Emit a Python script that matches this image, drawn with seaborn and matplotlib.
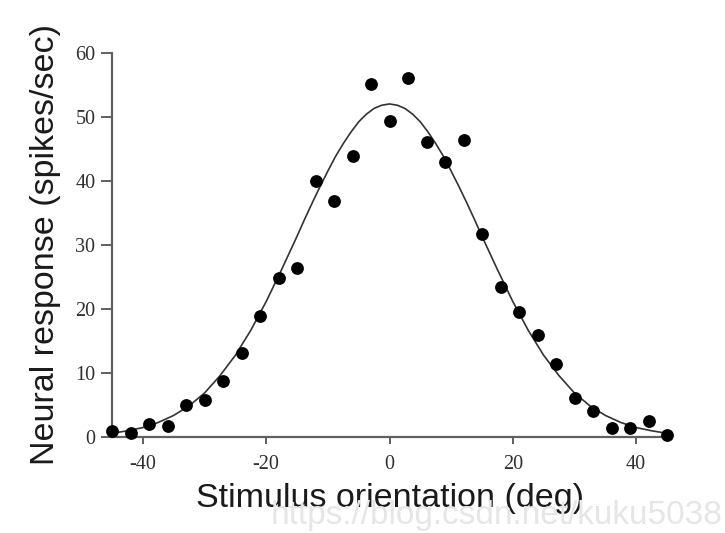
import matplotlib
matplotlib.use("Agg")
import matplotlib.pyplot as plt
import seaborn as sns
import pandas as pd

# Measured responses (points)
orientation = [-45, -42, -39, -36, -33, -30, -27, -24, -21, -18, -15, -12, -9, -6, -3, 0,
               3, 6, 9, 12, 15, 18, 21, 24, 27, 30, 33, 36, 39, 42, 45]
response = [0.9, 0.5, 1.9, 1.6, 5.0, 5.7, 8.7, 13.1, 18.8, 24.8, 26.4, 39.9, 36.8, 43.9, 55.1, 49.3,
            56.1, 46.0, 42.9, 46.3, 31.6, 23.4, 19.5, 15.8, 11.4, 6.0, 4.0, 1.3, 1.3, 2.5, 0.2]

# Fitted tuning curve
curve_x = [-45, -42.5, -40, -37.5, -35, -32.5, -30, -27.5, -25, -22.5,
           -20, -18.75, -17.5, -16.25, -15, -13.75, -12.5, -11.25, -10, -8.75, -7.5, -6.25,
           -5, -3.75, -2.5, -1.25, 0, 1.25, 2.5, 3.75, 5, 6.25, 7.5, 8.75, 10, 11.25,
           12.5, 13.75, 15, 16.25, 17.5, 18.75, 20,
           22.5, 25, 27.5, 30, 32.5, 35, 37.5, 40, 42.5, 45]
curve_y = [0.5, 0.9, 1.4, 2.2, 3.3, 4.8, 6.8, 9.5, 12.7, 16.6,
           21.1, 23.6, 26.1, 28.7, 31.3, 34.0, 36.6, 39.1, 41.5, 43.8, 45.8, 47.6,
           49.2, 50.4, 51.3, 51.8, 52.0, 51.8, 51.3, 50.4, 49.2, 47.6, 45.8, 43.8, 41.5, 39.1,
           36.6, 34.0, 31.3, 28.7, 26.1, 23.6, 21.1,
           16.6, 12.7, 9.5, 6.8, 4.8, 3.3, 2.2, 1.4, 0.9, 0.5]

xticks = [-40, -20, 0, 20, 40]
yticks = [0, 10, 20, 30, 40, 50, 60]

sns.set_style("ticks")
plt.rcParams["axes.unicode_minus"] = False

fig = plt.figure(figsize=(7.25, 5.33), dpi=100)
ax = fig.add_axes([0.1545, 0.181, 0.7655, 0.72])

pts = pd.DataFrame({"x": orientation, "y": response})
fit = pd.DataFrame({"x": curve_x, "y": curve_y})

sns.lineplot(data=fit, x="x", y="y", ax=ax, color="#333333", linewidth=1.2, zorder=2)
sns.scatterplot(data=pts, x="x", y="y", ax=ax, color="black", s=85, edgecolor="black",
                linewidth=0, zorder=3, clip_on=False)

ax.set_xlim(-45, 45)
ax.set_ylim(0, 60)
ax.set_xticks(xticks)
ax.set_yticks(yticks)

for side in ["top", "right"]:
    ax.spines[side].set_visible(False)
for side in ["left", "bottom"]:
    ax.spines[side].set_color("#606060")
    ax.spines[side].set_linewidth(1.6)

ax.tick_params(axis="x", direction="out", length=5, width=1.4, color="#606060", pad=8)
ax.tick_params(axis="y", direction="out", length=8, width=1.4, color="#606060", pad=4)
for lab in ax.get_xticklabels() + ax.get_yticklabels():
    lab.set_fontfamily("Liberation Serif")
    lab.set_fontsize(14.5)
    lab.set_color("#303030")

ax.set_xlabel("Stimulus orientation (deg)", fontfamily="Liberation Sans", fontsize=24.5,
              color="#1a1a1a", labelpad=7)
ax.set_ylabel("Neural response (spikes/sec)", fontfamily="Liberation Sans", fontsize=24.5,
              color="#1a1a1a", labelpad=10)

fig.text(0.997, 0.004, "https://blog.csdn.net/kuku5038", ha="right", va="bottom",
         fontfamily="Liberation Sans", fontsize=24, color="#e6e6e6", zorder=0)

fig.savefig("out.png", dpi=100)
